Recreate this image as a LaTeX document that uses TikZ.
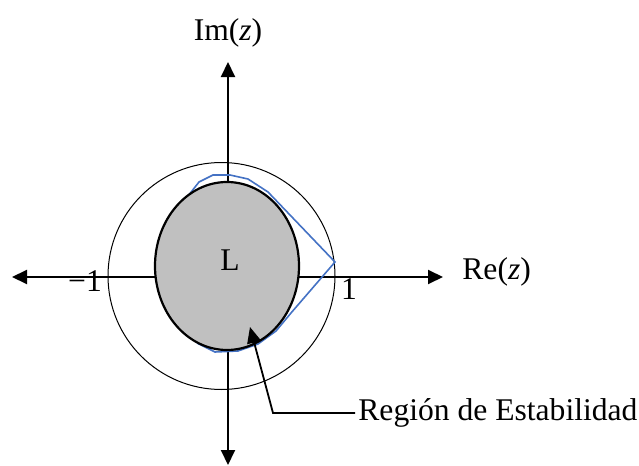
\documentclass[tikz,border=0pt]{standalone}
\usepackage{fontspec}
\setmainfont{Liberation Serif}
\usetikzlibrary{arrows.meta}
\definecolor{curveblue}{RGB}{68,114,196}
\definecolor{regiongray}{RGB}{192,192,192}

\begin{document}
\begin{tikzpicture}[
  x=0.5pt, y=-0.5pt,
  lbl/.style={inner sep=0pt, font=\fontsize{15.8pt}{19pt}\selectfont},
  axis/.style={{Triangle[length=7.5pt,width=7pt]}-{Triangle[length=7.5pt,width=7pt]}, line width=1pt},
  lead/.style={-{Triangle[length=8pt,width=7pt]}, line width=0.9pt}
]
\useasboundingbox (0,0) rectangle (639,466);
% axes
\coordinate (xl) at (12,277);
\coordinate (xr) at (443,277);
\coordinate (yt) at (228,62);
\coordinate (yb) at (228,465);
\draw[axis] (xl) -- (xr);
\draw[axis] (yb) -- (yt);
% unit circle
\draw[line width=0.5pt] (221.5,276) circle [radius=113.5];
% boundary curve
\draw[curveblue, line width=0.8pt] (188,196) -- (199,182) -- (213,175) -- (230,175) -- (248,179)
  -- (268,192) -- (335,262) -- (291,313) -- (276,331) -- (258,344) -- (238,351)
  -- (215,352) -- (197,343);
% stability region
\draw[fill=regiongray, line width=1.1pt] (227,266) ellipse [x radius=72, y radius=84];
% labels
\node[lbl] (domain) at (230,260) {L};
\node[lbl] (minone) at (85,281) {−1};
\node[lbl] (one) at (349,289) {1};
\node[lbl, anchor=west] (real) at (462,272) {Re(\textit{z})};
\node[lbl] (imag) at (228,33) {Im(\textit{z})};
\node[lbl, anchor=west] (region) at (358,413) {Región de Estabilidad};
\coordinate (bend) at (273,413);
\coordinate (tip) at (250,327);
\draw[lead] (region.west) ++(-3,0) -- (bend) -- (tip);
\end{tikzpicture}
\end{document}
